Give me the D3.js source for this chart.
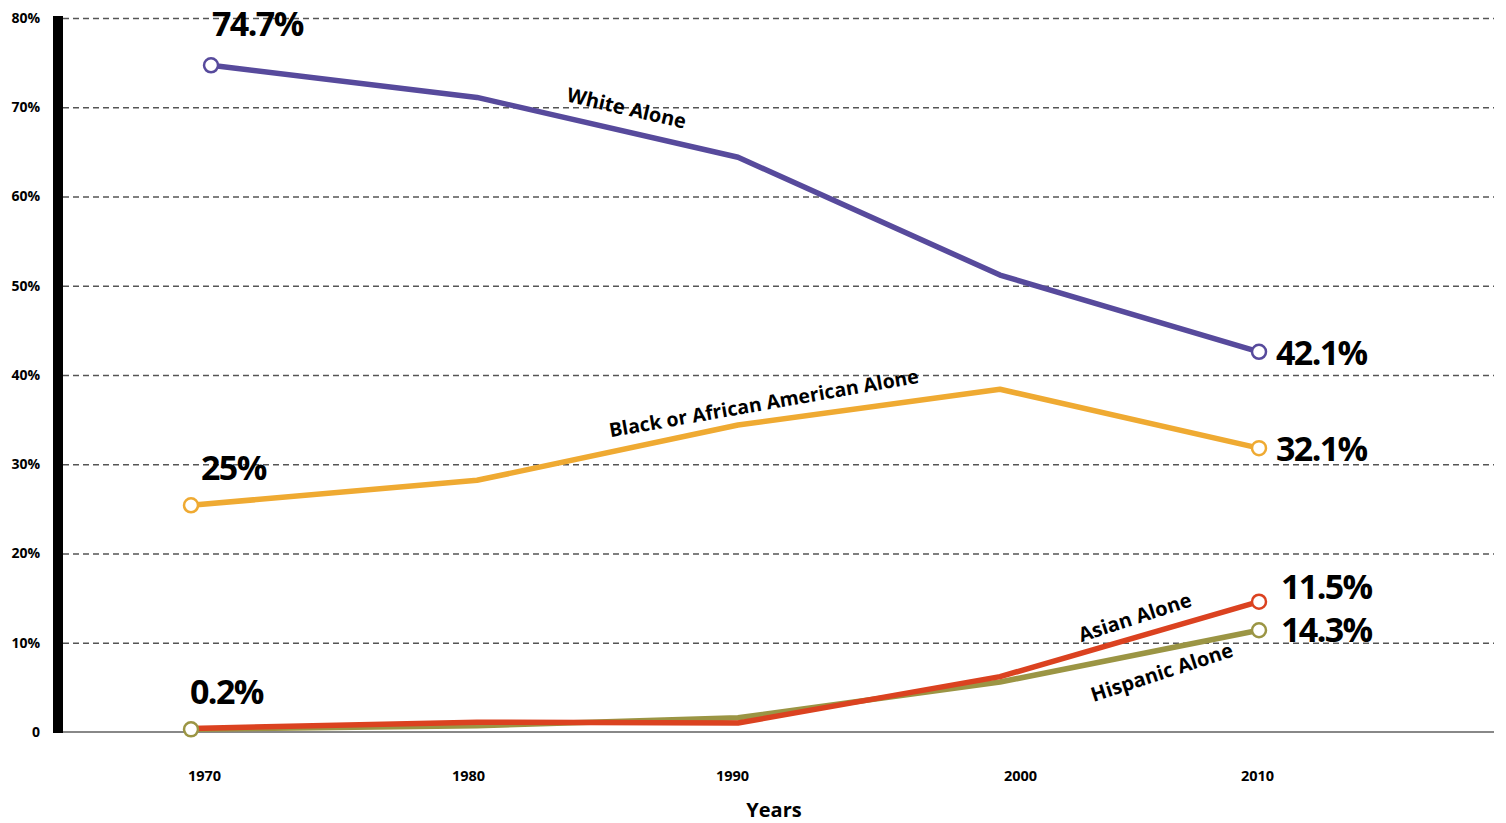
<!DOCTYPE html>
<html><head><meta charset="utf-8">
<script src="https://cdn.jsdelivr.net/npm/d3@7"></script>
<style>
body{margin:0;background:#fff;}
text{font-family:"Open Sans","Noto Sans",sans-serif;font-weight:700;fill:#000;}
</style></head>
<body><svg id="c" width="1506" height="823"></svg>
<script>
const years = [1970, 1980, 1990, 2000, 2010];
const whiteYears = [1970.7, 1980, 1990, 2000, 2010];
const yearLabels = ["1970", "1980", "1990", "2000", "2010"];
const whiteAlone = [74.7, 71.1, 64.4, 51.2, 42.6];
const blackAlone = [25.4, 28.2, 34.4, 38.4, 31.8];
const asianAlone = [0.4, 1.1, 1.0, 6.2, 14.6];
const hispanicAlone = [0.3, 0.7, 1.6, 5.6, 11.4];
const yTicks = [0, 10, 20, 30, 40, 50, 60, 70, 80];
const yTickLabels = ["0", "10%", "20%", "30%", "40%", "50%", "60%", "70%", "80%"];
const startLabels = ["74.7%", "25%", "0.2%"];
const endLabels = ["42.1%", "32.1%", "11.5%", "14.3%"];
const seriesNames = ["White Alone", "Black or African American Alone", "Asian Alone", "Hispanic Alone"];

const svg = d3.select("#c");
const mLeft = 63, mRight = 1494, mTop = 18, mBottom = 732;
const y = d3.scaleLinear().domain([0, 80]).range([mBottom, mTop]);
const x = d3.scaleLinear().domain(years).range([191, 477, 738, 1000, 1259]);
const xLab = d3.scaleLinear().domain(years).range([204, 468, 732, 1020, 1257]);

// grid
const grid = svg.append("g").attr("transform", `translate(${mLeft},0)`)
  .call(d3.axisRight(y).tickValues(yTicks.filter(d => d > 0)).tickSize(mRight - mLeft).tickFormat(""));
grid.select(".domain").remove();
grid.selectAll("line").attr("stroke", "#555").attr("stroke-width", 1.3).attr("stroke-dasharray", "6,4");

// baseline
svg.append("line").attr("x1", mLeft).attr("x2", mRight).attr("y1", y(0)).attr("y2", y(0))
  .attr("stroke", "#888").attr("stroke-width", 2);
// black bar axis
svg.append("rect").attr("x", 53).attr("y", y(80) - 2).attr("width", 10).attr("height", y(0) - y(80) + 3).attr("fill", "#000");

// y labels
const ya = svg.append("g").attr("transform", "translate(40,0)")
  .call(d3.axisLeft(y).tickValues(yTicks).tickSize(0).tickPadding(0).tickFormat((d, i) => yTickLabels[i]));
ya.select(".domain").remove();
ya.selectAll("text").style("font-size", "14px").style("font-family", "'Open Sans',sans-serif").style("font-weight", "700");

// x labels
const xa = svg.append("g").attr("transform", `translate(0,${mBottom})`)
  .call(d3.axisBottom(xLab).tickValues(years).tickSize(0).tickPadding(39).tickFormat((d, i) => yearLabels[i]));
xa.select(".domain").remove();
xa.selectAll("text").style("font-size", "14.5px").style("font-family", "'Open Sans',sans-serif").style("font-weight", "700");

svg.append("text").attr("x", 774).attr("y", 817).attr("text-anchor", "middle")
  .style("font-size", "20px").text("Years");

const series = [
  {xs: years, v: hispanicAlone, c: "#9b9544"},
  {xs: years, v: asianAlone, c: "#db4220"},
  {xs: years, v: blackAlone, c: "#efaa32"},
  {xs: whiteYears, v: whiteAlone, c: "#574a9c"}
];
const line = d3.line().x(d => x(d[0])).y(d => y(d[1]));
series.forEach(s => {
  const pts = s.xs.map((t, i) => [t, s.v[i]]);
  svg.append("path").attr("d", line(pts)).attr("fill", "none").attr("stroke", s.c)
    .attr("stroke-width", 5.5).attr("stroke-linejoin", "round").attr("stroke-linecap", "round");
});
const markers = [
  {t: whiteYears[0], v: whiteAlone[0], c: "#574a9c"},
  {t: whiteYears[4], v: whiteAlone[4], c: "#574a9c"},
  {t: years[0], v: blackAlone[0], c: "#efaa32"},
  {t: years[4], v: blackAlone[4], c: "#efaa32"},
  {t: years[4], v: asianAlone[4], c: "#db4220"},
  {t: years[4], v: hispanicAlone[4], c: "#9b9544"},
  {t: years[0], v: hispanicAlone[0], c: "#9b9544"}
];
svg.selectAll("circle.m").data(markers).enter().append("circle")
  .attr("cx", d => x(d.t)).attr("cy", d => y(d.v)).attr("r", 7)
  .attr("fill", "#fff").attr("stroke", d => d.c).attr("stroke-width", 2.5);

const big = (tx, ty, s) => svg.append("text").attr("x", tx).attr("y", ty).style("font-size", "34px").style("letter-spacing", "-1.6px").text(s);
big(x(whiteYears[0]) + 1, 36, startLabels[0]);
big(x(years[0]) + 10, 480, startLabels[1]);
big(x(years[0]) - 1, 704, startLabels[2]);
big(x(years[4]) + 17, y(whiteAlone[4]) + 13, endLabels[0]);
big(x(years[4]) + 17, y(blackAlone[4]) + 13, endLabels[1]);
big(x(years[4]) + 22, 599, endLabels[2]);
big(x(years[4]) + 22, 642, endLabels[3]);

const nameLab = (cx, cy, ang, fs, s) => svg.append("text")
  .attr("transform", `translate(${cx},${cy}) rotate(${ang})`)
  .attr("text-anchor", "middle").style("font-size", fs + "px").text(s);
nameLab(625, 115, 13, 20, seriesNames[0]);
nameLab(765, 410, -10, 19.5, seriesNames[1]);
nameLab(1137, 624, -18, 20, seriesNames[2]);
nameLab(1164, 679, -18, 20, seriesNames[3]);
</script></body></html>
